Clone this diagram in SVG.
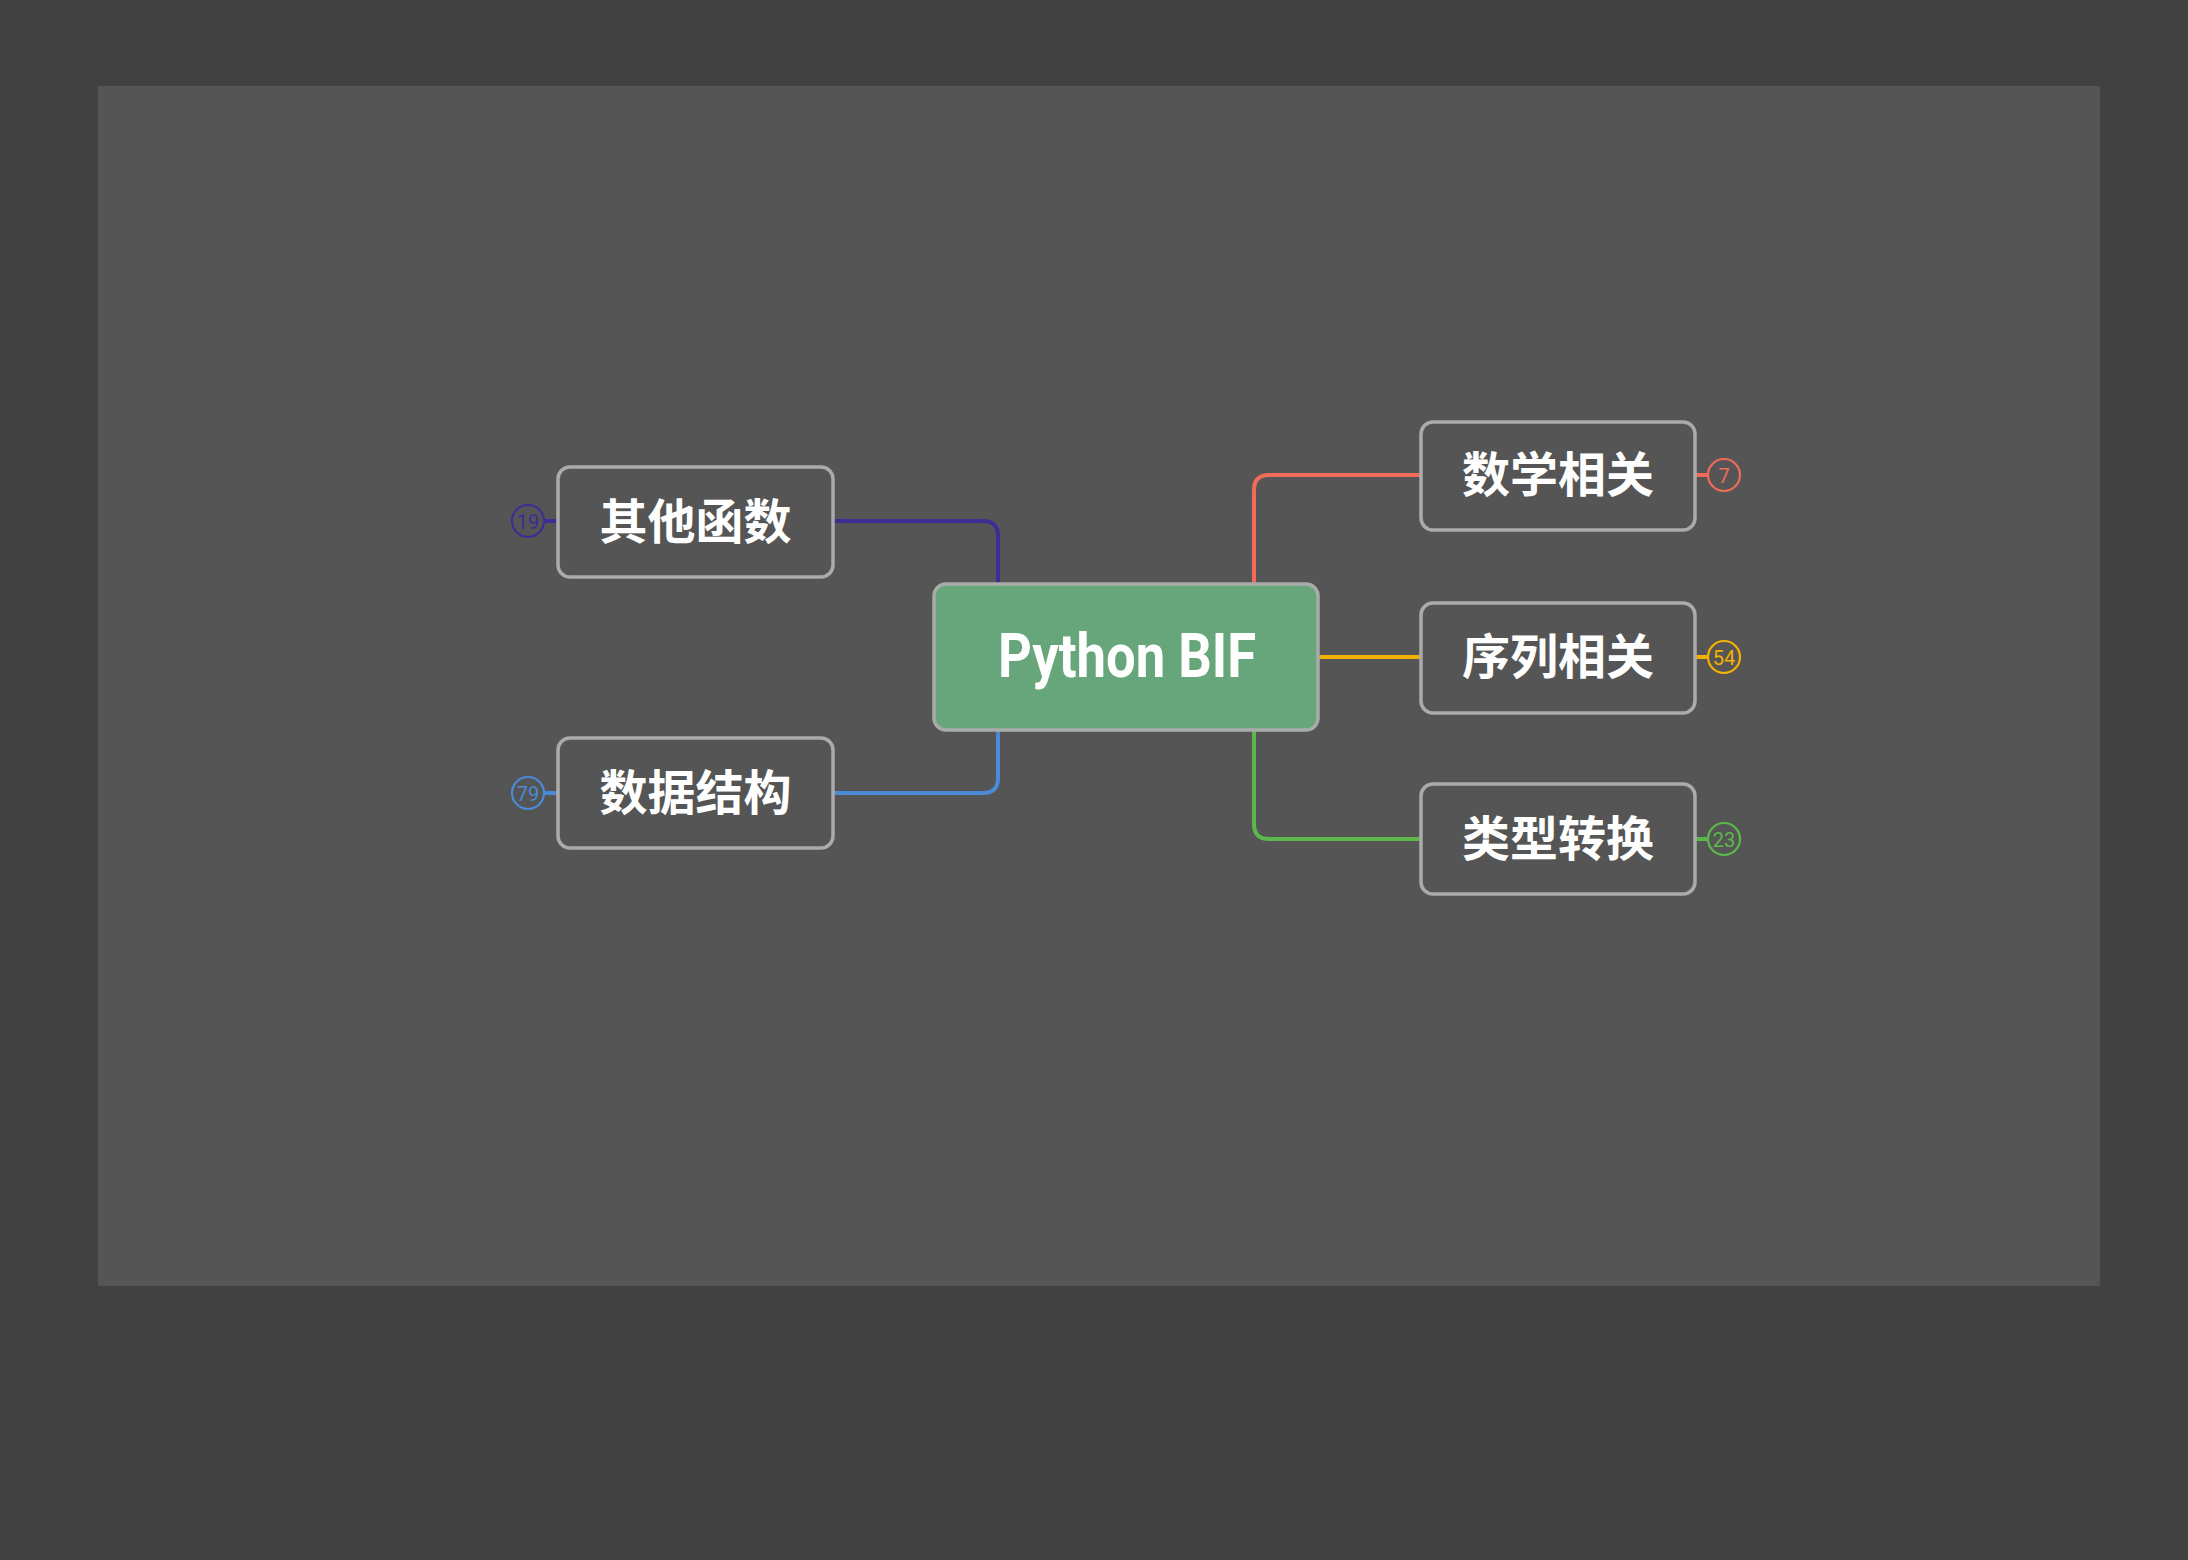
<svg xmlns="http://www.w3.org/2000/svg" width="2188" height="1560" viewBox="0 0 2188 1560">
<style>
.node rect{fill:#555555;stroke:#ababab;stroke-width:3.5}
.root rect{fill:#67a57b;stroke:#a9aba9;stroke-width:3.5}
.lbl{font-family:"Noto Sans CJK SC","Noto Sans",sans-serif;font-weight:700;font-size:48px;fill:#ffffff;text-anchor:middle;dominant-baseline:central}
.rootlbl{font-family:Roboto,"Liberation Sans",sans-serif;font-weight:700;font-size:61px;fill:#ffffff;text-anchor:middle}
.cnt{font-family:Roboto,"Liberation Sans",sans-serif;font-size:20px;text-anchor:middle;dominant-baseline:central}
.conn path{fill:none;stroke-width:4;stroke-linecap:butt}
.badge circle{fill:none;stroke-width:2.2}
</style>
<rect x="0" y="0" width="2188" height="1560" fill="#414141"/>
<rect x="98" y="86" width="2002" height="1200" fill="#555555"/>
<g id="connectors" class="conn">
<path d="M833,521 H983 Q998,521 998,536 V585" stroke="#3b2e94"/>
<path d="M833,793 H983 Q998,793 998,778 V729" stroke="#4b8ad6"/>
<path d="M1254,585 V490 Q1254,475 1269,475 H1421" stroke="#f06b5a"/>
<path d="M1318,657 H1421" stroke="#f4b200"/>
<path d="M1254,729 V824 Q1254,839 1269,839 H1421" stroke="#5cb84b"/>
<path d="M544,521 H558" stroke="#3b2e94"/>
<path d="M544,793 H558" stroke="#4b8ad6"/>
<path d="M1695,475 H1708" stroke="#f06b5a"/>
<path d="M1695,657 H1708" stroke="#f4b200"/>
<path d="M1695,839 H1708" stroke="#5cb84b"/>
</g>
<g id="root" class="root">
<rect x="934" y="584" width="384" height="146" rx="12"/>
<text class="rootlbl" x="1127" y="677" textLength="258" lengthAdjust="spacingAndGlyphs">Python BIF</text>
</g>
<g id="node-qita" class="node">
<rect x="558" y="467" width="275" height="110" rx="12"/>
<text class="lbl" x="695.5" y="518">其他函数</text>
</g>
<g id="node-shuju" class="node">
<rect x="558" y="738" width="275" height="110" rx="12"/>
<text class="lbl" x="695.5" y="789">数据结构</text>
</g>
<g id="node-shuxue" class="node">
<rect x="1421" y="422" width="274" height="108" rx="12"/>
<text class="lbl" x="1558" y="471">数学相关</text>
</g>
<g id="node-xulie" class="node">
<rect x="1421" y="603" width="274" height="110" rx="12"/>
<text class="lbl" x="1558" y="653">序列相关</text>
</g>
<g id="node-leixing" class="node">
<rect x="1421" y="784" width="274" height="110" rx="12"/>
<text class="lbl" x="1558" y="835">类型转换</text>
</g>
<g id="badge-qita" class="badge">
<circle cx="528" cy="521" r="16" stroke="#3b2e94"/>
<text class="cnt" x="528" y="522" fill="#3b2e94">19</text>
</g>
<g id="badge-shuju" class="badge">
<circle cx="528" cy="793" r="16" stroke="#4b8ad6"/>
<text class="cnt" x="528" y="794" fill="#4b8ad6">79</text>
</g>
<g id="badge-shuxue" class="badge">
<circle cx="1724" cy="475" r="16" stroke="#f06b5a"/>
<text class="cnt" x="1724" y="476" fill="#f06b5a">7</text>
</g>
<g id="badge-xulie" class="badge">
<circle cx="1724" cy="657" r="16" stroke="#f4b200"/>
<text class="cnt" x="1724" y="658" fill="#f4b200">54</text>
</g>
<g id="badge-leixing" class="badge">
<circle cx="1724" cy="839" r="16" stroke="#5cb84b"/>
<text class="cnt" x="1724" y="840" fill="#5cb84b">23</text>
</g>
</svg>
